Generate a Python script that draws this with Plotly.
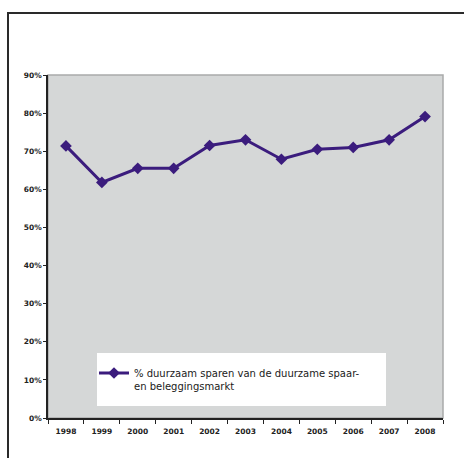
import plotly.graph_objects as go

years = ["1998", "1999", "2000", "2001", "2002", "2003", "2004", "2005", "2006", "2007", "2008"]
share = [0.714, 0.618, 0.655, 0.655, 0.715, 0.730, 0.679, 0.705, 0.710, 0.730, 0.791]
series_name = "% duurzaam sparen van de duurzame spaar-<br>en beleggingsmarkt"
y_ticks = [0, 0.1, 0.2, 0.3, 0.4, 0.5, 0.6, 0.7, 0.8, 0.9]

W, H = 465, 458
L, R, T, B = 48, 22, 75, 40
pw, ph = W - L - R, H - T - B


def px_x(p):
    return (p - L) / pw


def px_y(p):
    return (H - B - p) / ph


line_color = "#3b1c7d"

fig = go.Figure()
fig.add_trace(go.Scatter(
    x=years, y=share, mode="lines+markers", name=series_name,
    line=dict(color=line_color, width=3),
    marker=dict(symbol="diamond", size=9, color=line_color),
))

shapes = [
    # light border around the plotting area
    dict(type="rect", xref="paper", yref="paper", x0=0, x1=1, y0=0, y1=1,
         line=dict(color="#a9abab", width=1.5), fillcolor="#d5d7d7", layer="below"),
    # white legend panel
    dict(type="rect", xref="paper", yref="paper",
         x0=px_x(97), x1=px_x(386), y0=px_y(406), y1=px_y(353),
         line=dict(width=0), fillcolor="white", layer="below"),
    # outer frame: left edge
    dict(type="line", xref="paper", yref="paper",
         x0=px_x(8), x1=px_x(8), y0=px_y(H), y1=px_y(12),
         line=dict(color="#2a2a2a", width=2)),
    # outer frame: top edge
    dict(type="line", xref="paper", yref="paper",
         x0=px_x(7), x1=px_x(W - 1), y0=px_y(13), y1=px_y(13),
         line=dict(color="#2a2a2a", width=2)),
]

tick_font = dict(family="DejaVu Sans", size=7.5, color="#222222", weight="bold")

fig.update_layout(
    width=W, height=H,
    margin=dict(l=L, r=R, t=T, b=B),
    paper_bgcolor="white",
    plot_bgcolor="#d5d7d7",
    shapes=shapes,
    showlegend=True,
    legend=dict(
        x=px_x(94), y=px_y(360), xanchor="left", yanchor="top",
        bgcolor="rgba(0,0,0,0)", borderwidth=0, valign="top",
        font=dict(family="DejaVu Sans", size=10, color="#1a1a1a"),
        itemwidth=30,
    ),
    xaxis=dict(
        type="category", range=[-0.5, 10.5], tickson="boundaries",
        ticks="outside", ticklen=4, tickwidth=1, tickcolor="#222",
        showline=True, linecolor="#222", linewidth=1.5,
        showgrid=False, zeroline=False, tickfont=tick_font,
        ticklabelstandoff=5, fixedrange=True,
    ),
    yaxis=dict(
        range=[0, 0.9], tickvals=y_ticks, tickformat=".0%",
        ticks="outside", ticklen=3, tickwidth=1, tickcolor="#222",
        showline=True, linecolor="#222", linewidth=1.5,
        showgrid=False, zeroline=False, tickfont=tick_font,
        fixedrange=True,
    ),
)

fig.write_html("out.html")
